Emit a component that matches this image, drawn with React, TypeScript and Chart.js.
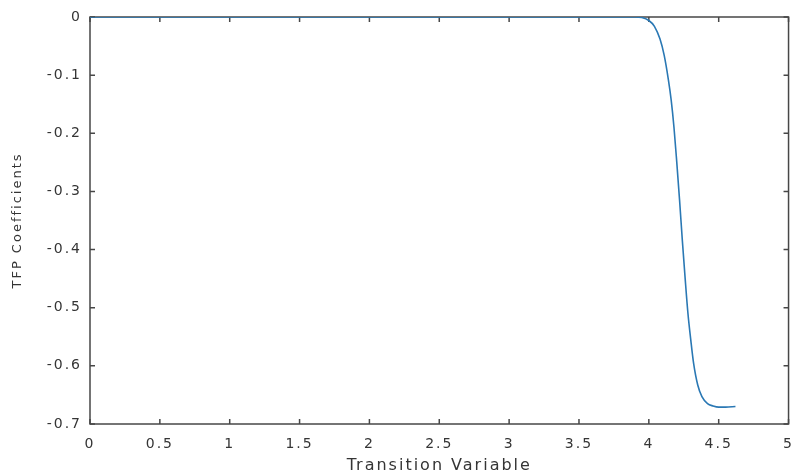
import React, { useEffect, useRef } from "react";
import { Chart, registerables } from "chart.js";

Chart.register(...registerables);

// Transition variable (x) and TFP coefficient (y)
const transitionVar = [
  0, 0.5, 1, 1.5, 2, 2.5, 3, 3.5, 3.9, 3.95, 4.0, 4.04, 4.08, 4.11, 4.14, 4.16,
  4.18, 4.2, 4.22, 4.24, 4.26, 4.28, 4.3, 4.32, 4.35, 4.38, 4.42, 4.46, 4.5,
  4.55, 4.62,
];
const tfpCoeff = [
  0, 0, 0, 0, 0, 0, 0, 0, 0, -0.001, -0.006, -0.016, -0.038, -0.066, -0.108,
  -0.143, -0.19, -0.25, -0.315, -0.385, -0.45, -0.51, -0.555, -0.595, -0.633,
  -0.653, -0.665, -0.669, -0.671, -0.671, -0.67,
];
const xTickValues = [0, 0.5, 1, 1.5, 2, 2.5, 3, 3.5, 4, 4.5, 5];
const xTickLabels = ["0", "0.5", "1", "1.5", "2", "2.5", "3", "3.5", "4", "4.5", "5"];
const yTickValues = [0, -0.1, -0.2, -0.3, -0.4, -0.5, -0.6, -0.7];
const yTickLabels = ["0", "-0.1", "-0.2", "-0.3", "-0.4", "-0.5", "-0.6", "-0.7"];

const AXIS_COLOR = "#474747";
const TEXT_COLOR = "#353535";
const FONT = "'DejaVu Sans', 'Liberation Sans', Arial, sans-serif";
const SPACING = "2px";

function labelFor(values: number[], labels: string[], v: number): string {
  for (let i = 0; i < values.length; i++) {
    if (Math.abs(values[i] - v) < 1e-6) return labels[i];
  }
  return "";
}

const spacingPlugin = {
  id: "letterSpacing",
  beforeUpdate(chart: any) {
    chart.ctx.letterSpacing = SPACING;
  },
  beforeLayout(chart: any) {
    chart.ctx.letterSpacing = SPACING;
  },
  beforeDraw(chart: any) {
    chart.ctx.letterSpacing = SPACING;
  },
};

const boxPlugin = {
  id: "matlabBox",
  beforeDatasetsDraw(chart: any) {
    const { ctx, chartArea } = chart;
    const { left, right, top, bottom } = chartArea;
    const xs = chart.scales.x;
    const ys = chart.scales.y;
    const len = 5;
    ctx.save();
    ctx.strokeStyle = AXIS_COLOR;
    ctx.lineWidth = 1.5;
    ctx.strokeRect(left, top, right - left, bottom - top);
    ctx.beginPath();
    xTickValues.forEach((v) => {
      const px = xs.getPixelForValue(v);
      ctx.moveTo(px, bottom);
      ctx.lineTo(px, bottom - len);
      ctx.moveTo(px, top);
      ctx.lineTo(px, top + len);
    });
    yTickValues.forEach((v) => {
      const py = ys.getPixelForValue(v);
      ctx.moveTo(left, py);
      ctx.lineTo(left + len, py);
      ctx.moveTo(right, py);
      ctx.lineTo(right - len, py);
    });
    ctx.stroke();
    ctx.restore();
  },
};

export default function App() {
  const canvasRef = useRef<HTMLCanvasElement | null>(null);

  useEffect(() => {
    if (!canvasRef.current) return;
    const points = transitionVar.map((x, i) => ({ x, y: tfpCoeff[i] }));
    const chart = new Chart(canvasRef.current, {
      type: "line",
      data: {
        datasets: [
          {
            data: points,
            borderColor: "#2a78b4",
            borderWidth: 1.6,
            pointRadius: 0,
            cubicInterpolationMode: "monotone",
            fill: false,
          },
        ],
      },
      options: {
        animation: false,
        responsive: true,
        maintainAspectRatio: false,
        layout: { padding: { top: 17, right: 7, bottom: 0, left: 0 } },
        plugins: {
          legend: { display: false },
          tooltip: { enabled: false },
        },
        scales: {
          x: {
            type: "linear",
            min: 0,
            max: 5,
            afterFit(scale: any) {
              scale.height = 50;
            },
            afterBuildTicks(scale: any) {
              scale.ticks = xTickValues.map((v) => ({ value: v }));
            },
            grid: { display: false, drawTicks: false },
            border: { display: false },
            ticks: {
              padding: 12,
              color: TEXT_COLOR,
              font: { family: FONT, size: 14 },
              maxRotation: 0,
              autoSkip: false,
              callback: (v: any) => labelFor(xTickValues, xTickLabels, Number(v)),
            },
            title: {
              display: true,
              text: "Transition Variable",
              color: TEXT_COLOR,
              font: { family: FONT, size: 16, lineHeight: 1 },
              padding: { top: 0, bottom: 0 },
            },
          },
          y: {
            type: "linear",
            min: -0.7,
            max: 0,
            afterFit(scale: any) {
              scale.width = 90;
            },
            afterBuildTicks(scale: any) {
              scale.ticks = yTickValues.map((v) => ({ value: v }));
            },
            grid: { display: false, drawTicks: false },
            border: { display: false },
            ticks: {
              padding: 8,
              color: TEXT_COLOR,
              font: { family: FONT, size: 14 },
              autoSkip: false,
              callback: (v: any) => labelFor(yTickValues, yTickLabels, Number(v)),
            },
            title: {
              display: true,
              text: "TFP Coefficients",
              color: TEXT_COLOR,
              font: { family: FONT, size: 13, lineHeight: 1.2 },
              padding: { top: 10, bottom: 0 },
            },
          },
        },
      },
      plugins: [spacingPlugin, boxPlugin],
    } as any);
    return () => chart.destroy();
  }, []);

  return (
    <div
      style={{
        position: "absolute",
        left: 0,
        top: 0,
        width: 806,
        height: 474,
        background: "#ffffff",
      }}
    >
      <canvas ref={canvasRef} />
    </div>
  );
}
